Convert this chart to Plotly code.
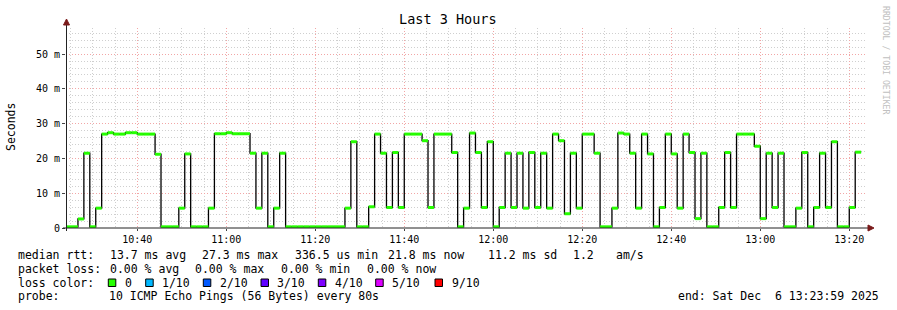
import plotly.graph_objects as go
from datetime import datetime, timedelta

# ---------------- data ----------------
graph_start = "2025-12-06 10:23:59"
graph_end = "2025-12-06 13:23:59"
first_step = "2025-12-06 10:24:00"
step_seconds = 80

# median rtt per 80 s step, in ms
median_ms = [
    0.34, 0.34, 2.6, 21.5, 0.34, 5.7, 27.0, 27.4, 27.0, 27.0,
    27.4, 27.4, 27.0, 27.0, 27.0, 21.2, 0.34, 0.34, 0.34, 5.7,
    21.3, 0.34, 0.34, 0.34, 5.7, 27.1, 27.1, 27.4, 27.1, 27.1,
    27.1, 21.5, 5.7, 21.5, 0.34, 5.7, 21.5, 0.34, 0.34, 0.34,
    0.34, 0.34, 0.34, 0.34, 0.34, 0.34, 0.34, 5.7, 24.8, 0.34,
    0.34, 6.1, 27.0, 21.5, 5.9, 21.7, 5.9, 27.0, 27.0, 27.0,
    25.1, 5.9, 27.0, 27.0, 27.0, 21.7, 0.34, 5.7, 27.3, 21.7,
    5.9, 24.8, 0.34, 5.9, 21.5, 5.9, 21.5, 5.7, 21.7, 5.9,
    21.5, 5.7, 27.0, 25.1, 4.1, 21.5, 5.7, 27.0, 27.0, 21.5,
    0.34, 0.34, 5.7, 27.3, 27.0, 21.5, 5.7, 27.0, 21.3, 0.34,
    5.9, 27.0, 21.3, 5.7, 27.0, 21.7, 2.7, 21.5, 0.34, 0.34,
    5.9, 21.7, 5.9, 27.0, 27.0, 27.0, 23.5, 2.7, 21.5, 5.9,
    21.5, 0.34, 0.34, 5.7, 21.7, 0.34, 5.9, 21.5, 5.9, 24.8,
    0.34, 0.34, 5.9, 21.8,
]

y_tick_vals = [0, 10, 20, 30, 40, 50]
y_tick_text = ["0", "10 m", "20 m", "30 m", "40 m", "50 m"]

loss_labels = ["0", "1/10", "2/10", "3/10", "4/10", "5/10", "9/10"]
loss_colors = ["#26ff00", "#00b8ff", "#0059ff", "#5e00ff", "#7e00ff", "#dd00ff", "#ff0000"]

stats_rtt = ["median rtt:", "13.7 ms avg", "27.3 ms max", "336.5 us min", "21.8 ms now", "11.2 ms sd", "1.2", "am/s"]
stats_loss = ["packet loss:", "0.00 % avg", "0.00 % max", "0.00 % min", "0.00 % now"]
probe_text = ["probe:", "10 ICMP Echo Pings (56 Bytes) every 80s"]
end_text = "end: Sat Dec  6 13:23:59 2025"
title_text = "Last 3 Hours"
y_title = "Seconds"
watermark = "RRDTOOL / TOBI OETIKER"

# ---------------- layout geometry (pixels) ----------------
W, H = 897, 310
L, R, T, B = 66, 30, 28, 82
PW = W - L - R
PH = H - T - B
MONO = "DejaVu Sans Mono"
LEG_SIZE = 11.5

def px(x):
    return (x - L) / PW

def py(y):
    return (T + PH - y) / PH

# ---------------- traces ----------------
t0 = datetime.strptime(first_step, "%Y-%m-%d %H:%M:%S")
times = [t0 + timedelta(seconds=step_seconds * i) for i in range(len(median_ms) + 1)]

fig = go.Figure()
fig.add_trace(go.Scatter(
    x=times, y=median_ms + [median_ms[-1]], mode="lines",
    line=dict(shape="hv", color="#000000", width=1.3),
    hoverinfo="skip", showlegend=False,
))

gx, gy = [], []
for i, v in enumerate(median_ms):
    gx += [times[i], times[i + 1], None]
    gy += [v, v, None]
fig.add_trace(go.Scatter(
    x=gx, y=gy, mode="lines",
    line=dict(color=loss_colors[0], width=3),
    hoverinfo="skip", showlegend=False,
))

# ---------------- axes ----------------
major_grid = "#f2a6a6"
minor_grid = "#cfcfcf"
fig.update_xaxes(
    type="date", range=[graph_start, graph_end],
    tick0="2025-12-06 10:00:00", dtick=20 * 60 * 1000, tickformat="%H:%M",
    showgrid=True, gridcolor=major_grid, griddash="1px,2px", gridwidth=1,
    minor=dict(tick0="2025-12-06 10:00:00", dtick=5 * 60 * 1000, showgrid=True,
               gridcolor=minor_grid, griddash="1px,2px", gridwidth=1),
    ticks="outside", ticklen=2, tickcolor="#444", tickwidth=1,
    tickfont=dict(family=MONO, size=10, color="#000"),
    showline=False, zeroline=False, fixedrange=True,
)
fig.update_yaxes(
    range=[0, 57.5], tickvals=y_tick_vals, ticktext=y_tick_text,
    showgrid=True, gridcolor=major_grid, griddash="1px,2px", gridwidth=1,
    minor=dict(dtick=2, showgrid=True, gridcolor=minor_grid, griddash="1px,2px", gridwidth=1),
    ticks="outside", ticklen=3, tickcolor="#444", tickwidth=1,
    tickfont=dict(family=MONO, size=10, color="#000"),
    showline=False, zeroline=False, fixedrange=True,
)

shapes = []
axis_col = "#222222"
arrow_col = "#7a1a1a"
# axis lines
shapes.append(dict(type="line", xref="paper", yref="paper",
                   x0=px(63), x1=px(868), y0=py(228), y1=py(228),
                   line=dict(color=axis_col, width=1)))
shapes.append(dict(type="line", xref="paper", yref="paper",
                   x0=px(66.5), x1=px(66.5), y0=py(231), y1=py(24),
                   line=dict(color=axis_col, width=1)))
# arrows
shapes.append(dict(type="path", xref="paper", yref="paper",
                   path=f"M {px(66.5)},{py(19)} L {px(63.5)},{py(25)} L {px(69.5)},{py(25)} Z",
                   fillcolor=arrow_col, line=dict(color=arrow_col, width=1)))
shapes.append(dict(type="path", xref="paper", yref="paper",
                   path=f"M {px(874)},{py(228)} L {px(868)},{py(225)} L {px(868)},{py(231)} Z",
                   fillcolor=arrow_col, line=dict(color=arrow_col, width=1)))

# ---------------- texts ----------------
ann = []
def text(x, y, s, size=LEG_SIZE, xanchor="left", color="#000", angle=0):
    ann.append(dict(text=s, x=px(x), y=py(y), xref="paper", yref="paper",
                    xanchor=xanchor, yanchor="middle", showarrow=False,
                    textangle=angle,
                    font=dict(family=MONO, size=size, color=color)))

text(447.5, 19, title_text, size=13.5, xanchor="center")
text(11, 127, y_title, size=11.5, xanchor="center", angle=-90)
text(886, 60, watermark, size=8.2, xanchor="center", color="#c0c0c0", angle=90)

rtt_x = [15.5, 107.5, 199.5, 292.5, 386, 486, 571, 613.5]
for x, s in zip(rtt_x, stats_rtt):
    text(x, 255, s)
loss_x = [15.5, 107.5, 192.5, 278.5, 365]
for x, s in zip(loss_x, stats_loss):
    text(x, 268.5, s)
text(15.5, 282.5, "loss color:")
sq_x = [108.3, 145.7, 203.3, 261, 318.3, 375.7, 435]
lab_x = [122.5, 159.5, 217.5, 275, 332.5, 389.5, 449.5]
for sx, lx, lab, col in zip(sq_x, lab_x, loss_labels, loss_colors):
    shapes.append(dict(type="rect", xref="paper", yref="paper",
                       x0=px(sx), x1=px(sx + 7.5), y0=py(286.5), y1=py(279),
                       fillcolor=col, line=dict(color="#000", width=1)))
    text(lx, 282.5, lab)
text(15.5, 296, probe_text[0])
text(107, 296, probe_text[1])
text(880.5, 296, end_text, xanchor="right")

fig.update_layout(
    width=W, height=H,
    margin=dict(l=L, r=R, t=T, b=B, pad=0),
    paper_bgcolor="#ffffff", plot_bgcolor="#ffffff",
    shapes=shapes, annotations=ann, showlegend=False,
)

fig.write_html("out.html", config={"displayModeBar": False})
